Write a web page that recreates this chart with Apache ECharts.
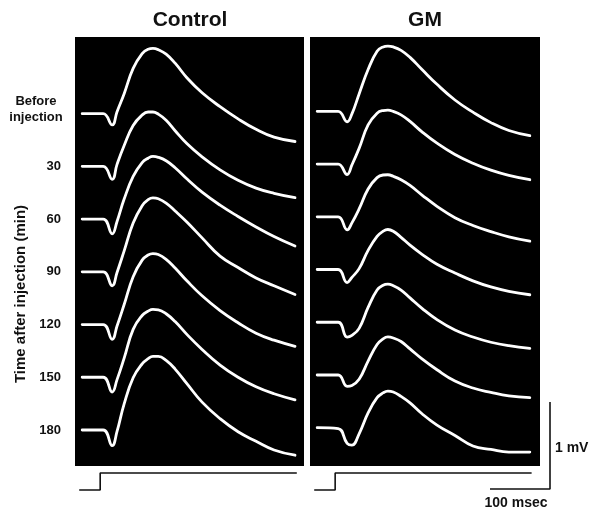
<!DOCTYPE html>
<html><head><meta charset="utf-8">
<script src="https://cdn.jsdelivr.net/npm/echarts@6/dist/echarts.min.js"></script>
<style>html,body{margin:0;padding:0;background:#fff}#c{width:589px;height:512px}</style>
</head><body><div id="c"></div>
<script>
// time (msec, stimulus onset = 0)
const timeMs = [-30, 5, 20, 28, 40, 55, 70, 80, 88, 97, 110, 125, 145, 170, 200, 230, 260, 290, 325];
const rowLabels = ['Before\ninjection', '30', '60', '90', '120', '150', '180'];

// Control responses (mV re. baseline)
const controlBefore = [0, 0, -0.13, 0.02, 0.23, 0.52, 0.69, 0.74, 0.75, 0.735, 0.685, 0.58, 0.41, 0.24, 0.08, -0.06, -0.18, -0.27, -0.32];
const control30     = [0, 0, -0.15, 0.02, 0.24, 0.47, 0.59, 0.625, 0.625, 0.60, 0.53, 0.41, 0.26, 0.11, -0.04, -0.16, -0.25, -0.31, -0.36];
const control60     = [0, 0, -0.17, -0.03, 0.23, 0.49, 0.65, 0.70, 0.72, 0.71, 0.67, 0.59, 0.46, 0.31, 0.16, 0.03, -0.09, -0.20, -0.31];
const control90     = [0, 0, -0.16, -0.01, 0.24, 0.56, 0.76, 0.83, 0.85, 0.84, 0.79, 0.70, 0.57, 0.39, 0.18, 0.05, -0.07, -0.16, -0.26];
const control120    = [0, 0, -0.17, -0.02, 0.23, 0.55, 0.74, 0.80, 0.815, 0.805, 0.75, 0.65, 0.50, 0.33, 0.16, 0.02, -0.10, -0.18, -0.25];
const control150    = [0, 0, -0.17, -0.03, 0.22, 0.55, 0.71, 0.76, 0.78, 0.775, 0.73, 0.64, 0.49, 0.32, 0.14, 0.00, -0.11, -0.19, -0.26];
const control180    = [0, 0, -0.18, -0.02, 0.30, 0.60, 0.76, 0.82, 0.845, 0.845, 0.80, 0.70, 0.53, 0.32, 0.13, -0.02, -0.13, -0.23, -0.29];

// GM responses (mV re. baseline)
const gmBefore = [0, 0, -0.12, -0.03, 0.20, 0.48, 0.69, 0.74, 0.75, 0.74, 0.70, 0.62, 0.48, 0.31, 0.13, -0.01, -0.13, -0.22, -0.28];
const gm30     = [0, 0, -0.12, -0.01, 0.18, 0.45, 0.585, 0.615, 0.62, 0.605, 0.565, 0.49, 0.37, 0.24, 0.11, 0.01, -0.07, -0.13, -0.18];
const gm60     = [0, 0, -0.15, -0.07, 0.09, 0.32, 0.45, 0.48, 0.483, 0.465, 0.425, 0.36, 0.25, 0.12, -0.01, -0.10, -0.17, -0.23, -0.28];
const gm90     = [0, 0, -0.15, -0.09, 0.01, 0.22, 0.38, 0.44, 0.46, 0.44, 0.37, 0.28, 0.175, 0.06, -0.04, -0.13, -0.20, -0.25, -0.29];
const gm120    = [0, 0, -0.17, -0.15, -0.07, 0.17, 0.37, 0.425, 0.437, 0.42, 0.37, 0.28, 0.16, 0.03, -0.09, -0.17, -0.23, -0.27, -0.30];
const gm150    = [0, 0, -0.13, -0.12, -0.05, 0.16, 0.35, 0.415, 0.437, 0.425, 0.385, 0.30, 0.185, 0.06, -0.07, -0.15, -0.20, -0.24, -0.26];
const gm180    = [0, -0.01, -0.18, -0.20, -0.07, 0.17, 0.345, 0.40, 0.42, 0.41, 0.36, 0.285, 0.16, 0.03, -0.09, -0.21, -0.25, -0.28, -0.28];

// stimulus step and scale bar
const stimTime = [-35, 0, 0, 328];
const stimLevel = [0, 0, 1, 1];
const scaleTime = [0, 100, 100];
const scaleMv = [0, 0, 1];

const controlTraces = [controlBefore, control30, control60, control90, control120, control150, control180];
const gmTraces = [gmBefore, gm30, gm60, gm90, gm120, gm150, gm180];

const STEP = 0.606; // vertical stacking between sweeps (mV)
const FONT = '"Liberation Sans", Arial, Helvetica, sans-serif';
const chart = echarts.init(document.getElementById('c'), null, {renderer: 'canvas'});

function traceSeries(traces, idx) {
  return traces.map((arr, i) => ({
    type: 'line', xAxisIndex: idx, yAxisIndex: idx,
    data: timeMs.map((t, k) => [t, arr[k] + (traces.length - 1 - i) * STEP]),
    smooth: 0.45, showSymbol: false, symbol: 'none', silent: true,
    lineStyle: {color: '#fff', width: 2.8, cap: 'round', join: 'round'},
    animation: false
  }));
}
function blackLine(xs, ys, idx, w) {
  return {
    type: 'line', xAxisIndex: idx, yAxisIndex: idx,
    data: xs.map((x, k) => [x, ys[k]]), showSymbol: false, symbol: 'none',
    silent: true, clip: false, animation: false,
    lineStyle: {color: '#111', width: w}
  };
}

const hidden = {show: false};
const option = {
  backgroundColor: '#fff',
  animation: false,
  grid: [
    {left: 75, top: 37, width: 229, height: 429, show: true, backgroundColor: '#000', borderWidth: 0},
    {left: 310, top: 37, width: 230, height: 429, show: true, backgroundColor: '#000', borderWidth: 0},
    {left: 75, top: 473, width: 229, height: 17},
    {left: 310, top: 473, width: 230, height: 17},
    {left: 490, top: 402, width: 60, height: 87}
  ],
  xAxis: [
    {type: 'value', gridIndex: 0, min: -42, max: 340, ...hidden},
    {type: 'value', gridIndex: 1, min: -42, max: 342, ...hidden},
    {type: 'value', gridIndex: 2, min: -42, max: 340, ...hidden},
    {type: 'value', gridIndex: 3, min: -42, max: 342, ...hidden},
    {type: 'value', gridIndex: 4, min: 0, max: 100, ...hidden}
  ],
  yAxis: [
    {type: 'value', gridIndex: 0, min: -0.414, max: 4.517, ...hidden},
    {type: 'value', gridIndex: 1, min: -0.44, max: 4.49, ...hidden},
    {type: 'value', gridIndex: 2, min: 0, max: 1, ...hidden},
    {type: 'value', gridIndex: 3, min: 0, max: 1, ...hidden},
    {type: 'value', gridIndex: 4, min: 0, max: 1, ...hidden}
  ],
  series: [
    ...traceSeries(controlTraces, 0),
    ...traceSeries(gmTraces, 1),
    blackLine(stimTime, stimLevel, 2, 1.6),
    blackLine(stimTime, stimLevel, 3, 1.6),
    blackLine(scaleTime, scaleMv, 4, 1.6)
  ]
};
chart.setOption(option);

// text labels
const g = [];
function txt(text, x, y, size, align, extra) {
  return Object.assign({
    type: 'text', x: x, y: y, silent: true,
    style: {text: text, fill: '#111', font: 'bold ' + size + 'px ' + FONT,
            textAlign: align || 'center', textVerticalAlign: 'middle', lineHeight: 16}
  }, extra || {});
}
g.push(txt('Control', 190, 20, 21));
g.push(txt('GM', 425, 20, 21));
rowLabels.forEach((lab, i) => {
  const y = chart.convertToPixel({gridIndex: 0}, [0, (rowLabels.length - 1 - i) * STEP])[1];
  if (i === 0) g.push(txt(lab, 36, y - 4, 13, 'center'));
  else g.push(txt(lab, 61, y, 13, 'right'));
});
g.push(txt('Time after injection (min)', 21, 294, 15, 'center', {rotation: Math.PI / 2}));
g.push(txt('1 mV', 555, 448, 14, 'left'));
g.push(txt('100 msec', 516, 503, 14, 'center'));
chart.setOption({graphic: g});
</script>
</body></html>
